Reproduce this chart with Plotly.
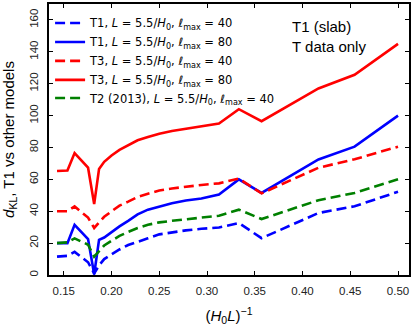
import plotly.graph_objects as go

# (H0 L)^-1 sample positions
x_inv_L = [0.1429, 0.1538, 0.1613, 0.1754, 0.1818, 0.1869, 0.1923, 0.2000,
           0.2083, 0.2174, 0.2273, 0.2381, 0.2500, 0.2632, 0.2778, 0.2941,
           0.3125, 0.3333, 0.3571, 0.4167, 0.4545, 0.5000]

t1_l40 = [11.5, 12.0, 14.5, 8.0, 1.0, 6.0, 10.0, 13.0, 16.0, 18.8, 21.0, 23.0,
          25.5, 26.8, 28.0, 29.0, 29.8, 32.6, 23.1, 38.9, 43.1, 52.2]
t1_l80 = [20.0, 20.0, 31.5, 22.5, 0.5, 22.0, 23.5, 27.0, 30.5, 34.0, 38.0, 41.0,
          43.0, 45.0, 46.7, 48.0, 50.5, 60.0, 51.5, 72.5, 80.5, 100.0]
t3_l40 = [40.0, 40.0, 43.0, 36.0, 29.5, 33.0, 36.5, 40.0, 43.5, 46.0, 49.0, 51.0,
          53.0, 54.3, 55.5, 56.5, 57.5, 60.5, 51.2, 67.3, 72.6, 80.5]
t3_l80 = [65.2, 65.5, 76.5, 67.3, 44.5, 66.5, 71.0, 75.0, 78.5, 81.5, 84.5, 86.5,
          88.6, 90.3, 91.8, 93.0, 95.0, 104.0, 96.5, 117.0, 125.6, 145.0]
t2_l40 = [20.0, 20.5, 23.0, 19.0, 11.5, 15.0, 18.5, 21.5, 24.5, 27.0, 29.5, 31.5,
          33.0, 34.0, 35.0, 36.0, 37.2, 41.0, 35.1, 46.9, 51.5, 60.0]

lbl = "<i>L</i> = 5.5/<i>H</i><sub>0</sub>, <i>ℓ</i><sub>max</sub> = "
series = [
    ("T1, " + lbl + "40", t1_l40, "#0000ff", "10px,5px"),
    ("T1, " + lbl + "80", t1_l80, "#0000ff", "solid"),
    ("T3, " + lbl + "40", t3_l40, "#ff0000", "10px,5px"),
    ("T3, " + lbl + "80", t3_l80, "#ff0000", "solid"),
    ("T2 (2013), " + lbl + "40", t2_l40, "#008000", "10px,5px"),
]

# one small legend per entry so the row spacing matches the original
legend_rows = [0.930, 0.860, 0.790, 0.720, 0.653]

fig = go.Figure()
legends = {}
for i, (name, ys, color, dash) in enumerate(series):
    key = "legend" if i == 0 else f"legend{i + 1}"
    fig.add_trace(go.Scatter(
        x=x_inv_L, y=ys, mode="lines", name=name, legend=key,
        line=dict(color=color, width=2.6, dash=dash),
    ))
    legends[key] = dict(
        x=0.003, y=legend_rows[i], xanchor="left", yanchor="middle",
        bgcolor="rgba(0,0,0,0)", font=dict(family="DejaVu Sans", size=11.5),
        borderwidth=0,
    )

axis_style = dict(
    showgrid=False, zeroline=False, showline=True, linecolor="black",
    linewidth=1.5, mirror="ticks", ticks="inside", ticklen=4,
    tickcolor="black", tickfont=dict(size=11.5, color="#222"),
    automargin=False,
)

fig.update_layout(
    width=416, height=328,
    margin=dict(l=49, r=7, t=4, b=53),
    paper_bgcolor="white", plot_bgcolor="white",
    font=dict(family="Liberation Sans", color="black"),
    showlegend=True,
    **legends,
    xaxis=dict(
        range=[0.1345, 0.5115], tickvals=[0.15, 0.2, 0.25, 0.3, 0.35, 0.4, 0.45, 0.5],
        ticktext=["0.15", "0.20", "0.25", "0.30", "0.35", "0.40", "0.45", "0.50"],
        ticklabelstandoff=4,
        title=dict(text="(<i>H</i><sub>0</sub><i>L</i>)<sup>−1</sup>",
                   font=dict(size=15)),
        **axis_style,
    ),
    yaxis=dict(
        range=[0, 170], tickvals=[0, 20, 40, 60, 80, 100, 120, 140, 160],
        tickangle=-90, ticklabelstandoff=5,
        title=dict(text="<i>d</i><sub>KL</sub>, T1 vs other models",
                   font=dict(size=15)),
        **axis_style,
    ),
    annotations=[
        dict(text="T1 (slab)", x=0.669, y=0.918, xref="paper", yref="paper",
             xanchor="left", yanchor="middle", showarrow=False,
             font=dict(size=15)),
        dict(text="T data only", x=0.669, y=0.843, xref="paper", yref="paper",
             xanchor="left", yanchor="middle", showarrow=False,
             font=dict(size=15)),
    ],
)

fig.write_html(
    "out.html",
    config={"displayModeBar": False},
    post_script="document.body.style.margin='0';document.body.style.overflow='hidden';",
)
